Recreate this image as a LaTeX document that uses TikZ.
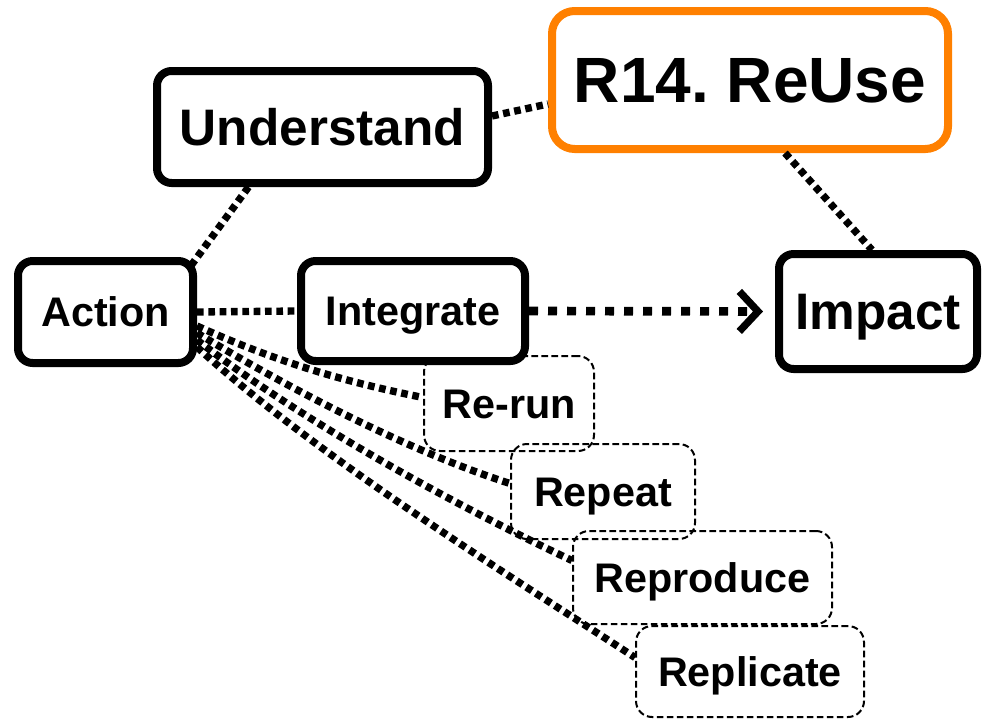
\documentclass[tikz,border=0pt]{standalone}
\usepackage{fontspec}
\setmainfont{Liberation Sans}
\usetikzlibrary{arrows.meta,calc}

\definecolor{reuseorange}{RGB}{255,128,0}

\tikzset{every picture/.style={line width=0.75pt}}
\tikzset{
  mainbox/.style={draw, line width=6pt, rounded corners=11pt, fill=white, inner sep=0pt, text depth=0pt},
  subbox/.style={draw, line width=1.5pt, dash pattern=on 5pt off 2.5pt, rounded corners=12pt, inner sep=0pt,
    text height=22.2pt, text depth=0pt, font=\fontsize{31}{36}\selectfont\bfseries},
  smalltxt/.style={text height=22.2pt, font=\fontsize{31}{36}\selectfont\bfseries},
  midtxt/.style={text height=27.6pt, font=\fontsize{38.5}{44}\selectfont\bfseries},
  bigtxt/.style={text height=34.4pt, font=\fontsize{48}{56}\selectfont\bfseries},
  linkdot/.style={line width=5.5pt, dash pattern=on 5pt off 3.5pt},
  dasharrow/.style={line width=6.5pt, dash pattern=on 6.75pt off 7.5pt, shorten >=9pt,
    -{Straight Barb[length=14pt,width=30pt,line width=5.5pt]}}
}

\begin{document}
\begin{tikzpicture}[x=0.75pt,y=0.75pt,yscale=-1,xscale=1]
\useasboundingbox (0,0) rectangle (982,721);

%Dashed Rounded Rect: Re-run
\node[subbox, minimum width=127.5pt, minimum height=71.25pt] (rerun) at (509,403.5) {Re-run};
%Dashed Rounded Rect: Repeat
\node[subbox, minimum width=138pt, minimum height=71.25pt] (repeat) at (603,491.5) {Repeat};
%Dashed Rounded Rect: Reproduce
\node[subbox, minimum width=194.25pt, minimum height=69.75pt] (reproduce) at (702.5,577.5) {Reproduce};
%Dashed Rounded Rect: Replicate
\node[subbox, minimum width=171pt, minimum height=68.25pt] (replicate) at (750,671.5) {Replicate};

%Rounded Rect: Understand
\node[mainbox, midtxt, minimum width=248.25pt, minimum height=84pt] (understand) at (322.5,127) {Understand};
%Rounded Rect: R14. ReUse
\node[mainbox, bigtxt, draw=reuseorange, rounded corners=17pt, minimum width=297pt, minimum height=103.5pt] (reuse) at (750,80) {R14.\ ReUse};
%Rounded Rect: Action
\node[mainbox, smalltxt, minimum width=131.25pt, minimum height=76.5pt] (action) at (105.5,312) {Action};
%Rounded Rect: Integrate
\node[mainbox, smalltxt, minimum width=168pt, minimum height=75pt] (integrate) at (413,311) {Integrate};
%Rounded Rect: Impact
\node[mainbox, midtxt, minimum width=148.5pt, minimum height=86.25pt] (impact) at (878,311.5) {Impact};

%Dotted Lines
\draw[linkdot] ($(understand.south)+(-74,0)$) -- ($(action.north east)+(-7,10)$) ;
\draw[linkdot] ($(understand.east)+(0,-11)$) -- ($(reuse.west)+(0,24)$) ;
\draw[linkdot] ($(reuse.south)+(35,0)$) -- ($(impact.north)+(-6,0)$) ;
\draw[linkdot] (action.east) -- (integrate.west) ;
%Dashed Arrow
\draw[dasharrow] (integrate.east) -- (impact.west) ;

%Dotted Curves
\draw[linkdot] ($(action.east)+(0,14)$) .. controls +(80,36) and +(-80,-16) .. ($(rerun.west)+(0,-6)$) ;
\draw[linkdot] ($(action.east)+(0,21)$) .. controls +(100,60) and +(-100,-32) .. ($(repeat.west)+(0,-8)$) ;
\draw[linkdot] ($(action.east)+(0,28)$) .. controls +(110,85) and +(-110,-52) .. ($(reproduce.west)+(0,-17)$) ;
\draw[linkdot] ($(action.east)+(0,35)$) .. controls +(120,110) and +(-130,-85) .. ($(replicate.west)+(0,-14)$) ;

\end{tikzpicture}
\end{document}
